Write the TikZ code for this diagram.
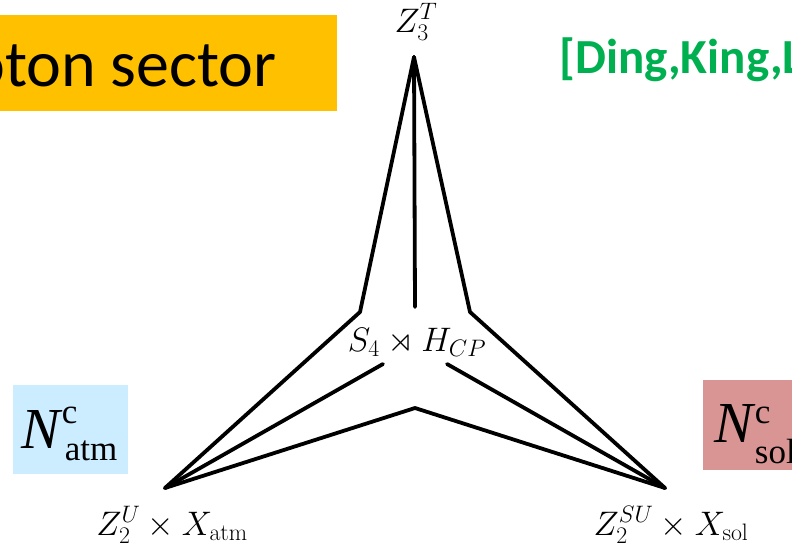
\RequirePackage{fix-cm}
\documentclass[tikz,border=0pt]{standalone}
\usepackage{amssymb}
\usepackage{fontspec}
\newfontfamily\calibri{Carlito}
\newfontfamily\tnr{Liberation Serif}
\definecolor{boxorange}{HTML}{FFC000}
\definecolor{refgreen}{HTML}{00B050}
\definecolor{boxblue}{HTML}{CCECFF}
\definecolor{boxpink}{HTML}{D99594}
\tikzset{
  edge/.style={line width=3.8pt, line join=round, line cap=round},
  mlabel/.style={anchor=base, inner sep=0pt, font=\fontsize{34}{40}\selectfont},
  nlabel/.style={anchor=base west, inner sep=0pt},
}
\begin{document}
\begin{tikzpicture}[x=1pt,y=-1pt]
\useasboundingbox (0,0) rectangle (792,549);
\begin{scope}
\clip (0,0) rectangle (792,549);
% orange title box
\fill[boxorange] (-10,15) rectangle (337,111);
\node[anchor=base east, inner sep=0pt, font=\calibri\fontsize{66}{72}\selectfont] (title) at (277,86) {oton sector};
% green reference
\node[anchor=base west, inner sep=0pt, text=refgreen, font=\calibri\bfseries\fontsize{49}{54}\selectfont] (ref) at (559,73) {[Ding,King,L};
% blue box
\fill[boxblue] (13,385) rectangle (128,474);
\node[nlabel] (natm) at (21,448) {{\tnr\fontsize{58}{58}\selectfont\itshape N}{\tnr\fontsize{35}{35}\selectfont\hspace{2pt}\rlap{\raisebox{25pt}{c}}\hspace{3pt}\raisebox{-12pt}{atm}}};
% pink box
\fill[boxpink] (703,380) rectangle (800,470);
\node[nlabel] (nsol) at (714,442) {{\tnr\fontsize{58}{58}\selectfont\itshape N}{\tnr\fontsize{35}{35}\selectfont\hspace{2pt}\rlap{\raisebox{19pt}{c}}\raisebox{-21pt}{sol}}};
\end{scope}
% points of the diagram
\coordinate (T) at (414,57);
\coordinate (BL) at (165,488);
\coordinate (BR) at (665,488);
\coordinate (Lb) at (360,312);
\coordinate (Rb) at (470,312);
\coordinate (Cb) at (415,307);
\coordinate (Li) at (383,364);
\coordinate (Ri) at (447,364);
\coordinate (Bm) at (415,408);
% lines
\draw[edge] (T) -- (Lb) -- (BL);
\draw[edge] (T) -- (Cb);
\draw[edge] (T) -- (Rb) -- (BR);
\draw[edge] (BL) -- (Li);
\draw[edge] (BR) -- (Ri);
\draw[edge] (BL) -- (Bm) -- (BR);
% labels
\node[mlabel] (top) at (416,32) {$Z_3^T$};
\node[mlabel] (center) at (417,351) {$S_4 \rtimes H_{CP}$};
\node[mlabel] (left) at (172,535) {$Z_2^U \times X_{\mathrm{atm}}$};
\node[mlabel] (right) at (671,535) {$Z_2^{SU} \times X_{\mathrm{sol}}$};
\end{tikzpicture}
\end{document}
